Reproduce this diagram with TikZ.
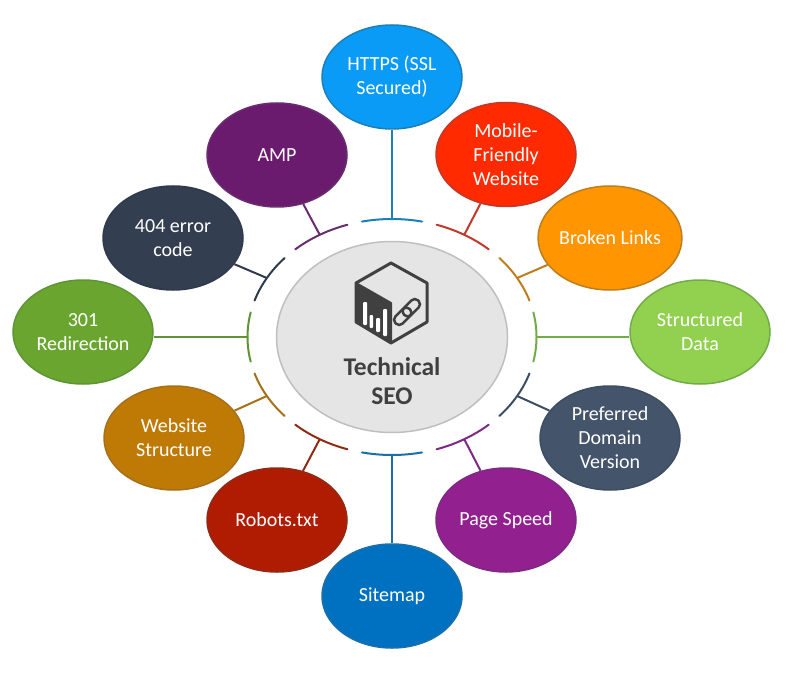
\documentclass[tikz,border=0pt]{standalone}
\usepackage{fontspec}
\setmainfont{Carlito}
\definecolor{httpsfill}{HTML}{0A9BF6}
\definecolor{httpsline}{HTML}{1C7FB8}
\definecolor{mobilefill}{HTML}{FF2A00}
\definecolor{mobileline}{HTML}{C0392B}
\definecolor{brokenfill}{HTML}{FF9500}
\definecolor{brokenline}{HTML}{BD7F1E}
\definecolor{structfill}{HTML}{92D14F}
\definecolor{structline}{HTML}{70AD47}
\definecolor{domainfill}{HTML}{44546A}
\definecolor{domainline}{HTML}{3D4D63}
\definecolor{speedfill}{HTML}{92208F}
\definecolor{speedline}{HTML}{7D2A85}
\definecolor{mapfill}{HTML}{0070C0}
\definecolor{mapline}{HTML}{1A6FA8}
\definecolor{robotsfill}{HTML}{B01C02}
\definecolor{robotsline}{HTML}{8F2A14}
\definecolor{structurefill}{HTML}{BF7A06}
\definecolor{structureline}{HTML}{A5701A}
\definecolor{redirectfill}{HTML}{6AA62F}
\definecolor{redirectline}{HTML}{5F9434}
\definecolor{errorfill}{HTML}{333F50}
\definecolor{errorline}{HTML}{2F3B4C}
\definecolor{ampfill}{HTML}{6B1B6E}
\definecolor{ampline}{HTML}{6A2C70}
\definecolor{iconcol}{HTML}{404040}
\tikzset{
  topic/.style={ellipse, draw=#1line, fill=#1fill, line width=1.5pt, minimum width=140pt, minimum height=104pt,
    inner sep=0pt, align=center, text=white, font=\fontsize{20}{24}\selectfont},
  link/.style={draw=#1line, line width=2pt},
  ringarc/.style={draw=#1line, line width=2pt, line cap=round}
}
\usetikzlibrary{shapes.geometric}
\begin{document}
\begin{tikzpicture}[x=1pt, y=1pt]
\useasboundingbox (0,0) rectangle (802,673);

\node[ellipse, draw=black!25, fill=black!10, line width=1.5pt, minimum width=231pt, minimum height=191pt] (hub) at (392,336) {};
\node[align=center, text=iconcol, font=\fontsize{25.5}{29}\selectfont\bfseries] (hublabel) at (392,292) {Technical\\SEO};

% ring points
\path (hub.center) ++(90:144.5pt and 118pt) coordinate (ringhttps);
\path (hub.center) ++(60:144.5pt and 118pt) coordinate (ringmobile);
\path (hub.center) ++(30:144.5pt and 118pt) coordinate (ringbroken);
\path (hub.center) ++(0:144.5pt and 118pt) coordinate (ringstruct);
\path (hub.center) ++(-30:144.5pt and 118pt) coordinate (ringdomain);
\path (hub.center) ++(-60:144.5pt and 118pt) coordinate (ringspeed);
\path (hub.center) ++(-90:144.5pt and 118pt) coordinate (ringmap);
\path (hub.center) ++(-120:144.5pt and 118pt) coordinate (ringrobots);
\path (hub.center) ++(-150:144.5pt and 118pt) coordinate (ringstructure);
\path (hub.center) ++(180:144.5pt and 118pt) coordinate (ringredirect);
\path (hub.center) ++(150:144.5pt and 118pt) coordinate (ringerror);
\path (hub.center) ++(120:144.5pt and 118pt) coordinate (ringamp);

\node[topic=https] (https) at (392,596) {HTTPS (SSL\\Secured)};
\node[topic=mobile] (mobile) at (506,518.5) {Mobile-\\Friendly\\Website};
\node[topic=broken] (broken) at (610,435) {Broken Links};
\node[topic=struct] (struct) at (700,341) {Structured\\Data};
\node[topic=domain] (domain) at (610,235) {Preferred\\Domain\\Version};
\node[topic=speed] (speed) at (506,153) {Page Speed};
\node[topic=map] (map) at (392,77) {Sitemap};
\node[topic=robots] (robots) at (277,153) {Robots.txt};
\node[topic=structure] (structure) at (174,235) {Website\\Structure};
\node[topic=redirect] (redirect) at (83,341) {301\\Redirection};
\node[topic=error] (error) at (173,435) {404 error\\code};
\node[topic=amp] (amp) at (277,518) {AMP};

\draw[link=https] (https) -- (ringhttps);
\draw[link=mobile] (mobile) -- (ringmobile);
\draw[link=broken] (broken) -- (ringbroken);
\draw[link=struct] (ringstruct) -- (ringstruct -| struct.west);
\draw[link=domain] (domain) -- (ringdomain);
\draw[link=speed] (speed) -- (ringspeed);
\draw[link=map] (map) -- (ringmap);
\draw[link=robots] (robots) -- (ringrobots);
\draw[link=structure] (structure) -- (ringstructure);
\draw[link=redirect] (ringredirect) -- (ringredirect -| redirect.east);
\draw[link=error] (error) -- (ringerror);
\draw[link=amp] (amp) -- (ringamp);

\draw[ringarc=https] (hub.center) ++(78:144.5pt and 118pt) arc[start angle=78, end angle=102, x radius=144.5pt, y radius=118pt];
\draw[ringarc=mobile] (hub.center) ++(48:144.5pt and 118pt) arc[start angle=48, end angle=72, x radius=144.5pt, y radius=118pt];
\draw[ringarc=broken] (hub.center) ++(18:144.5pt and 118pt) arc[start angle=18, end angle=42, x radius=144.5pt, y radius=118pt];
\draw[ringarc=struct] (hub.center) ++(-12:144.5pt and 118pt) arc[start angle=-12, end angle=12, x radius=144.5pt, y radius=118pt];
\draw[ringarc=domain] (hub.center) ++(-42:144.5pt and 118pt) arc[start angle=-42, end angle=-18, x radius=144.5pt, y radius=118pt];
\draw[ringarc=speed] (hub.center) ++(-72:144.5pt and 118pt) arc[start angle=-72, end angle=-48, x radius=144.5pt, y radius=118pt];
\draw[ringarc=map] (hub.center) ++(-102:144.5pt and 118pt) arc[start angle=-102, end angle=-78, x radius=144.5pt, y radius=118pt];
\draw[ringarc=robots] (hub.center) ++(-132:144.5pt and 118pt) arc[start angle=-132, end angle=-108, x radius=144.5pt, y radius=118pt];
\draw[ringarc=structure] (hub.center) ++(-162:144.5pt and 118pt) arc[start angle=-162, end angle=-138, x radius=144.5pt, y radius=118pt];
\draw[ringarc=redirect] (hub.center) ++(168:144.5pt and 118pt) arc[start angle=168, end angle=192, x radius=144.5pt, y radius=118pt];
\draw[ringarc=error] (hub.center) ++(138:144.5pt and 118pt) arc[start angle=138, end angle=162, x radius=144.5pt, y radius=118pt];
\draw[ringarc=amp] (hub.center) ++(108:144.5pt and 118pt) arc[start angle=108, end angle=132, x radius=144.5pt, y radius=118pt];

% cube icon
\fill[iconcol] (356,390) -- (391,370) -- (391,330) -- (356,351) -- cycle;
\draw[iconcol, line width=3pt, line join=round] (391,410) -- (427,390) -- (427,351) -- (391,330) -- (356,351) -- (356,390) -- cycle;
\draw[iconcol, line width=2pt, line join=round] (356,390) -- (391,370) -- (391,330);
\fill[white, rounded corners=1pt] (363,348) rectangle (367,371);
\fill[white, rounded corners=1pt] (369.5,345) rectangle (373,358);
\fill[white, rounded corners=1pt] (376,341) rectangle (380,355);
\fill[white, rounded corners=1pt] (383,337) rectangle (387,364);
\draw[iconcol, line width=2.5pt, rotate around={45:(407,361)}, rounded corners=4.5pt] (391,356) rectangle (411,366);
\draw[iconcol, line width=2.5pt, rotate around={45:(407,361)}, rounded corners=4.5pt] (403,356) rectangle (423,366);
\end{tikzpicture}
\end{document}
